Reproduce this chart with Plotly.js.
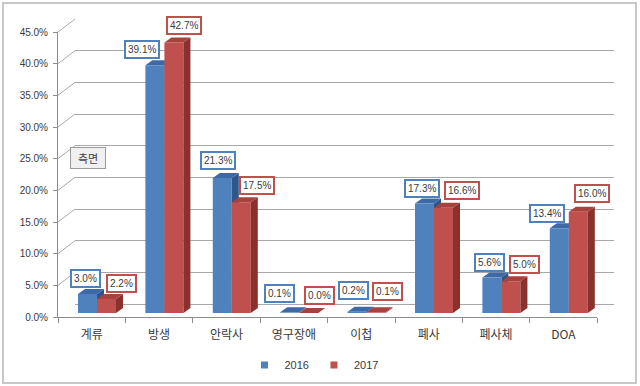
<!DOCTYPE html>
<html><head><meta charset="utf-8">
<script src="https://cdn.plot.ly/plotly-3.0.1.min.js"></script>
<style>html,body{margin:0;padding:0;background:#fff;} #chart{width:640px;height:386px;}</style>
</head><body><div id="chart"></div>
<script>
// ---- data ----
const categories = ['계류','방생','안락사','영구장애','이첩','폐사','폐사체','DOA'];
const seriesNames = ['2016','2017'];
const values2016 = [3.0, 39.1, 21.3, 0.1, 0.2, 17.3, 5.6, 13.4];
const values2017 = [2.2, 42.7, 17.5, 0.0, 0.1, 16.6, 5.0, 16.0];
const yTickValues = [0, 5, 10, 15, 20, 25, 30, 35, 40, 45];
const yTickLabels = ['0.0%', '5.0%', '10.0%', '15.0%', '20.0%', '25.0%', '30.0%', '35.0%', '40.0%', '45.0%'];

// ---- label placement tuning (pixels) ----
const blueLabelDx = [-2.5, -13, -4, -10, -4, -2.5, -2, -12];
const blueLabelUp = [16, 16, 18, 19, 21, 15, 15, 15];
const redLabelDx  = [15, 10, 16, 11, 11, 18, 14, 14];
const redLabelUp  = [16, 17, 17, 18, 21, 17, 17, 18];

// ---- geometry / style ----
const W = 640, H = 386, PXU = 285 / 45, CATW = 67.4, NC = categories.length;
function yDomain(p0, lo, hi) { return [(H - (p0 - lo * PXU)) / H, (H - (p0 - hi * PXU)) / H]; }
function xDomain(left) { return [left / W, (left + NC * CATW) / W]; }
const backX = xDomain(75), barX = xDomain(63.3), frontX = xDomain(58);
const backY = yDomain(304, 0, 45), barY = yDomain(313, 0, 45), frontY = yDomain(317, 0, 45);
const BARGAP = 0.436, BW = (1 - BARGAP) / 2, DX = 7 / CATW, DY = 5 / PXU;
const BLUE = '#4F81BD', BLUE_TOP = '#3D6AA6', BLUE_SIDE = '#2F5688';
const RED = '#C0504D', RED_TOP = '#A8423F', RED_SIDE = '#8A302D';
const GRID = '#a8a8a8', AXIS = '#8c8c8c', TXT = '#3a3a3a';
const KFONT = '"Noto Sans CJK KR", "Malgun Gothic", sans-serif';
const NFONT = '"Liberation Sans", Arial, sans-serif';
const xIdx = categories.map((c, i) => i);

const traces = [
  {type: 'scatter', x: [], y: [], xaxis: 'x', yaxis: 'y', showlegend: false, hoverinfo: 'skip'},
  {type: 'bar', name: seriesNames[0], x: xIdx, y: values2016, xaxis: 'x2', yaxis: 'y2',
   marker: {color: BLUE, line: {width: 0}}, showlegend: false},
  {type: 'bar', name: seriesNames[1], x: xIdx, y: values2017, xaxis: 'x2', yaxis: 'y2',
   marker: {color: RED, line: {width: 0}}, showlegend: false},
  {type: 'scatter', x: categories, y: categories.map(() => 0), xaxis: 'x3', yaxis: 'y3',
   mode: 'none', showlegend: false, hoverinfo: 'skip'},
  {type: 'scatter', name: seriesNames[0], x: [null], y: [null], xaxis: 'x3', yaxis: 'y3',
   mode: 'markers', marker: {symbol: 'square', size: 7, color: BLUE}},
  {type: 'scatter', name: seriesNames[1], x: [null], y: [null], xaxis: 'x3', yaxis: 'y3',
   mode: 'markers', marker: {symbol: 'square', size: 7, color: RED}}
];

const shapes = [];
// outer frame
shapes.push({type: 'rect', xref: 'paper', yref: 'paper', x0: 3 / W, x1: 636 / W,
  y0: (H - 383) / H, y1: (H - 3) / H, line: {color: '#c8c8c8', width: 2}, layer: 'below'});
// side-wall diagonals (front axis tick -> back wall gridline)
yTickValues.forEach(v => {
  shapes.push({type: 'line', xref: 'paper', yref: 'y', ysizemode: 'pixel', yanchor: v,
    x0: frontX[0], x1: backX[0], y0: -13, y1: 0, line: {color: GRID, width: 1}, layer: 'below'});
});
// floor right edge
shapes.push({type: 'line', xref: 'paper', yref: 'y', ysizemode: 'pixel', yanchor: 0,
  x0: frontX[1], x1: backX[1], y0: -13, y1: 0, line: {color: GRID, width: 1}, layer: 'below'});

function faces(i, v, left, right, topCol, sideCol, layer) {
  shapes.push({type: 'path', xref: 'x2', yref: 'y2', layer: layer, line: {width: 0}, fillcolor: sideCol,
    path: `M ${right},0 L ${right},${v} L ${right + DX},${v + DY} L ${right + DX},${DY} Z`});
  shapes.push({type: 'path', xref: 'x2', yref: 'y2', layer: layer, line: {width: 0}, fillcolor: topCol,
    path: `M ${left},${v} L ${right},${v} L ${right + DX},${v + DY} L ${left + DX},${v + DY} Z`});
}
xIdx.forEach(i => faces(i, values2016[i], i - BW, i, BLUE_TOP, BLUE_SIDE, 'below'));
xIdx.forEach(i => faces(i, values2017[i], i, i + BW, RED_TOP, RED_SIDE, 'above'));

const annotations = [];
function boxLabel(x, v, dx, up, col) {
  annotations.push({xref: 'x2', yref: 'y2', x: x, y: v, xshift: dx, yshift: up,
    xanchor: 'center', yanchor: 'middle', showarrow: false,
    text: v.toFixed(1) + '%', font: {family: NFONT, size: 10, color: TXT},
    bgcolor: '#ffffff', bordercolor: col, borderwidth: 2, borderpad: 2});
}
xIdx.forEach(i => boxLabel(i - BW / 2, values2016[i], blueLabelDx[i], blueLabelUp[i], BLUE));
xIdx.forEach(i => boxLabel(i + BW / 2, values2017[i], redLabelDx[i], redLabelUp[i], RED));
annotations.push({xref: 'paper', yref: 'paper', x: 88 / W, y: (H - 158) / H, showarrow: false,
  text: '측면', font: {family: KFONT, size: 11, color: '#444'}, bgcolor: '#f0f0f0',
  bordercolor: '#9a9a9a', borderwidth: 1, borderpad: 2, width: 30, xanchor: 'center', yanchor: 'middle'});

const layout = {
  width: W, height: H, margin: {l: 0, r: 0, t: 0, b: 0},
  paper_bgcolor: '#ffffff', plot_bgcolor: 'rgba(0,0,0,0)',
  barmode: 'group', bargap: BARGAP, bargroupgap: 0,
  showlegend: true,
  legend: {orientation: 'h', x: 0.5 - 6 / W, xanchor: 'center', y: (H - 365) / H, yanchor: 'middle',
    font: {family: NFONT, size: 11, color: TXT}, itemwidth: 30, bgcolor: 'rgba(0,0,0,0)'},
  xaxis: {domain: backX, range: [-0.5, 7.5], anchor: 'y', showgrid: false, zeroline: false,
    showline: false, showticklabels: false, ticks: '', fixedrange: true},
  yaxis: {domain: backY, range: [0, 45], anchor: 'x', tickvals: yTickValues, showgrid: true,
    gridcolor: GRID, gridwidth: 1, zeroline: true, zerolinecolor: GRID, zerolinewidth: 1,
    showline: false, showticklabels: false, ticks: '', fixedrange: true},
  xaxis2: {domain: barX, range: [-0.5, 7.5], anchor: 'y2', visible: false, fixedrange: true},
  yaxis2: {domain: barY, range: [0, 45], anchor: 'x2', visible: false, fixedrange: true},
  xaxis3: {domain: frontX, type: 'category', categoryorder: 'array', categoryarray: categories,
    range: [-0.5, 7.5], anchor: 'y3', showline: true, linecolor: AXIS, linewidth: 1,
    ticks: 'outside', ticklen: 5, tickcolor: AXIS, tickson: 'boundaries', showgrid: false,
    zeroline: false, tickfont: {family: KFONT, size: 12, color: TXT}, ticklabelstandoff: 7,
    fixedrange: true},
  yaxis3: {domain: frontY, range: [0, 45], anchor: 'x3', tickmode: 'array', tickvals: yTickValues,
    ticktext: yTickLabels, showline: true, linecolor: AXIS, linewidth: 1, ticks: 'outside', ticklen: 4,
    tickcolor: AXIS, showgrid: false, zeroline: false, ticklabelstandoff: 3,
    tickfont: {family: NFONT, size: 10, color: TXT}, fixedrange: true},
  shapes: shapes,
  annotations: annotations
};

Plotly.newPlot('chart', traces, layout, {displayModeBar: false, staticPlot: true});
</script>
</body></html>
